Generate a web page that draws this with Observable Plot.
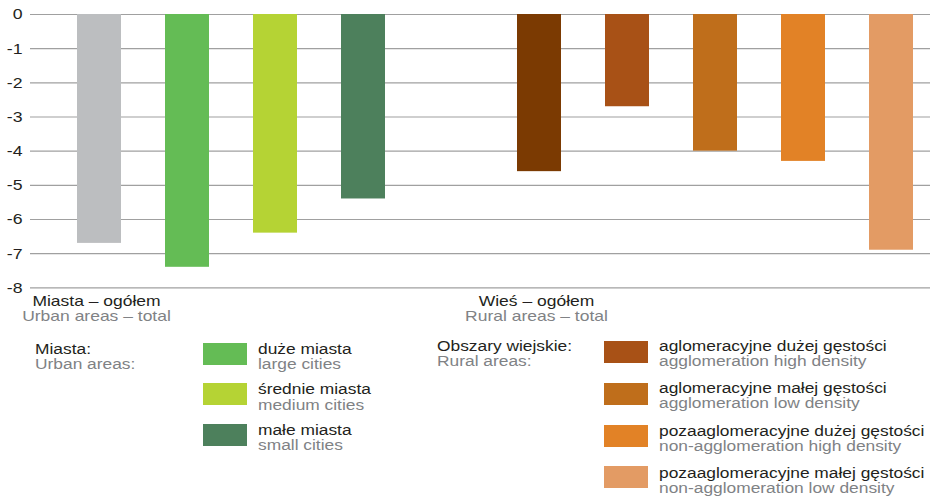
<!DOCTYPE html>
<html>
<head>
<meta charset="utf-8">
<script src="https://cdn.jsdelivr.net/npm/d3@7"></script>
<script src="https://cdn.jsdelivr.net/npm/@observablehq/plot@0.6"></script>
<style>
  body { margin: 0; background: #fff; font-family: "Liberation Sans", Arial, sans-serif; }
  #chart { position: relative; width: 940px; height: 499px; overflow: hidden; }
  .lg { position: absolute; font-size: 14px; line-height: 15.6px; white-space: nowrap; transform: scaleX(1.24); transform-origin: 0 0; }
  .pl { color: #231f20; }
  .en { color: #808285; }
  .sw { position: absolute; width: 44px; height: 22px; }
</style>
</head>
<body>
<div id="chart"></div>
<script>
// ---- data ----
const categoriesPl = ["Miasta – ogółem", "duże miasta", "średnie miasta", "małe miasta",
  "Wieś – ogółem", "aglomeracyjne dużej gęstości", "aglomeracyjne małej gęstości",
  "pozaaglomeracyjne dużej gęstości", "pozaaglomeracyjne małej gęstości"];
const categoriesEn = ["Urban areas – total", "large cities", "medium cities", "small cities",
  "Rural areas – total", "agglomeration high density", "agglomeration low density",
  "non-agglomeration high density", "non-agglomeration low density"];
const values = [-6.7, -7.4, -6.4, -5.4, -4.6, -2.7, -4.0, -4.3, -6.9];
const colors = ["#BCBEC0", "#64BC55", "#B5D334", "#4D805C", "#7B3A02", "#A85116", "#BF6E1B", "#E28226", "#E39B64"];
const yTicks = [0, -1, -2, -3, -4, -5, -6, -7, -8];
const totalIdx = [0, 4];                 // categories labelled under the axis
const urbanLegendIdx = [1, 2, 3];
const ruralLegendIdx = [5, 6, 7, 8];
const groupHeaders = [["Miasta:", "Urban areas:"], ["Obszary wiejskie:", "Rural areas:"]];

// ---- build ----
const rows = categoriesPl.map((c, i) => ({key: c, pl: c, en: categoriesEn[i], value: values[i], color: colors[i]}));
const spacer = " ";
const domain = [...categoriesPl.slice(0, 4), spacer, ...categoriesPl.slice(4)];
const totals = totalIdx.map(i => rows[i]);

const FS = "15.5px";
const FSX = "14px";
const svg = Plot.plot({
  width: 940,
  height: 330,
  marginTop: 14,
  marginBottom: 42.7,
  marginLeft: 30,
  marginRight: 10,
  style: {fontFamily: "Liberation Sans, Arial, sans-serif", fontSize: FS, color: "#231f20", background: "#fff"},
  x: {domain, range: [76.8, 914], paddingInner: 0.5, paddingOuter: 0, axis: null},
  y: {domain: [-8, 0], axis: null},
  marks: [
    Plot.ruleY(yTicks, {stroke: "#a0a0a0", strokeWidth: 1.2}),
    Plot.barY(rows, {x: "key", y: "value", fill: "color"}),
    Plot.axisY({ticks: yTicks, tickSize: 0, tickPadding: 8, tickFormat: d => String(d), label: null, fontSize: FS, fill: "#231f20"}),
    Plot.text(totals, {x: "key", y: () => -8, text: "pl", lineAnchor: "bottom", dx: -3, dy: 17.7, fill: "#231f20", fontSize: FSX}),
    Plot.text(totals, {x: "key", y: () => -8, text: "en", lineAnchor: "bottom", dx: -3, dy: 33.4, fill: "#808285", fontSize: FSX})
  ]
});
svg.style.position = "absolute";
svg.style.left = "0px";
svg.style.top = "0px";
svg.style.overflow = "visible";

// horizontal stretch of the typeface, as in the reference
svg.querySelectorAll("text").forEach(t => {
  const s = t.closest('[aria-label="text"]') ? 1.25 : 1.14;
  const tr = t.getAttribute("transform");
  if (tr) t.setAttribute("transform", tr + ` scale(${s},1)`);
  else {
    const x = +t.getAttribute("x") || 0, y = +t.getAttribute("y") || 0;
    t.removeAttribute("x"); t.removeAttribute("y");
    t.setAttribute("transform", `translate(${x},${y}) scale(${s},1)`);
  }
});

const chart = document.getElementById("chart");
chart.appendChild(svg);

// ---- legend (HTML below the SVG) ----
function label(x, top, pl, en) {
  const d = document.createElement("div");
  d.className = "lg";
  d.style.left = x + "px";
  d.style.top = top + "px";
  d.innerHTML = `<div class="pl">${pl}</div><div class="en">${en}</div>`;
  chart.appendChild(d);
}
function swatch(x, top, color) {
  const s = document.createElement("div");
  s.className = "sw";
  s.style.left = x + "px";
  s.style.top = top + "px";
  s.style.background = color;
  chart.appendChild(s);
}
label(35, 341.5, groupHeaders[0][0], groupHeaders[0][1]);
label(437, 338.5, groupHeaders[1][0], groupHeaders[1][1]);
const urbanSwY = [343, 383, 424], urbanTxtY = [341.5, 382, 422.5];
urbanLegendIdx.forEach((idx, k) => {
  swatch(203, urbanSwY[k], colors[idx]);
  label(258, urbanTxtY[k], categoriesPl[idx], categoriesEn[idx]);
});
const ruralSwY = [341, 383, 425, 466], ruralTxtY = [338.5, 380.5, 423.5, 465.5];
ruralLegendIdx.forEach((idx, k) => {
  swatch(604, ruralSwY[k], colors[idx]);
  label(659, ruralTxtY[k], categoriesPl[idx], categoriesEn[idx]);
});
</script>
</body>
</html>
